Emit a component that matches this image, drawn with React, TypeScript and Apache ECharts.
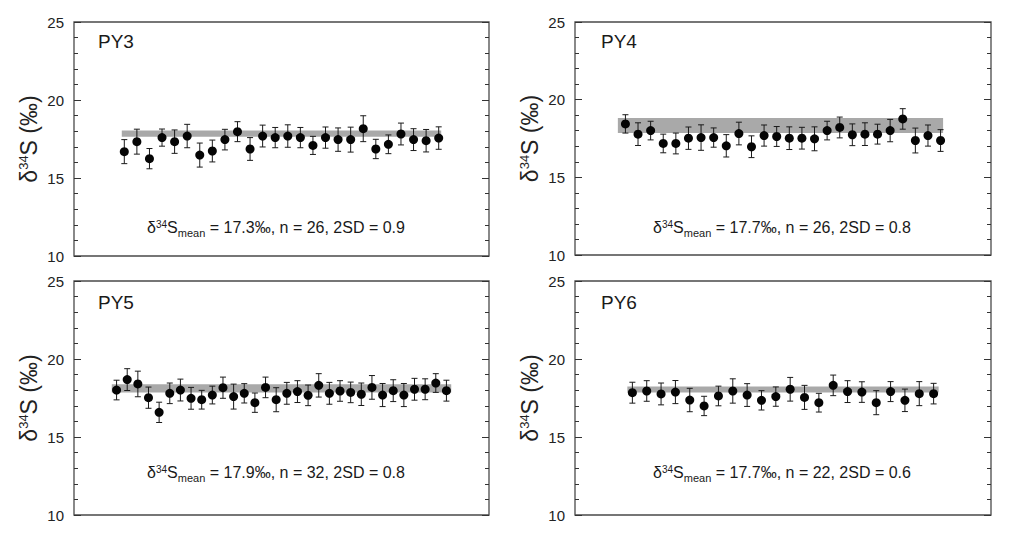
import React, { useEffect, useRef } from "react";
import * as echarts from "echarts";

// ---------- data ----------
const PANEL_NAMES = ["PY3", "PY4", "PY5", "PY6"];

const PY3_VALUES = [16.69, 17.33, 16.24, 17.59, 17.33, 17.69, 16.47, 16.73, 17.46, 17.97, 16.86, 17.69, 17.59, 17.69, 17.59, 17.09, 17.59, 17.46, 17.46, 18.16, 16.86, 17.16, 17.82, 17.46, 17.39, 17.56];
const PY3_ERRORS = [0.77, 0.8, 0.65, 0.55, 0.75, 0.75, 0.77, 0.7, 0.66, 0.64, 0.73, 0.7, 0.65, 0.72, 0.65, 0.58, 0.68, 0.75, 0.8, 0.83, 0.62, 0.6, 0.7, 0.7, 0.72, 0.72];

const PY4_VALUES = [18.44, 17.78, 18.01, 17.18, 17.18, 17.52, 17.56, 17.56, 17.03, 17.82, 16.97, 17.69, 17.63, 17.52, 17.52, 17.48, 18.01, 18.21, 17.74, 17.78, 17.78, 18.01, 18.76, 17.37, 17.69, 17.37];
const PY4_ERRORS = [0.59, 0.73, 0.6, 0.6, 0.67, 0.72, 0.82, 0.62, 0.72, 0.73, 0.7, 0.68, 0.64, 0.73, 0.7, 0.77, 0.6, 0.67, 0.7, 0.73, 0.64, 0.72, 0.66, 0.8, 0.68, 0.7];

const PY5_VALUES = [18.01, 18.68, 18.4, 17.52, 16.58, 17.8, 18.01, 17.48, 17.39, 17.69, 18.16, 17.59, 17.8, 17.2, 18.18, 17.39, 17.8, 17.91, 17.67, 18.31, 17.8, 17.95, 17.86, 17.74, 18.18, 17.69, 17.97, 17.69, 18.06, 18.06, 18.46, 17.97];
const PY5_ERRORS = [0.63, 0.7, 0.82, 0.68, 0.65, 0.66, 0.7, 0.7, 0.6, 0.57, 0.68, 0.8, 0.62, 0.62, 0.66, 0.77, 0.7, 0.7, 0.66, 0.75, 0.7, 0.66, 0.66, 0.72, 0.76, 0.74, 0.7, 0.74, 0.7, 0.67, 0.6, 0.67];

const PY6_VALUES = [17.84, 17.95, 17.76, 17.88, 17.37, 16.99, 17.63, 17.95, 17.69, 17.35, 17.59, 18.06, 17.54, 17.2, 18.31, 17.91, 17.88, 17.2, 17.91, 17.35, 17.78, 17.78];
const PY6_ERRORS = [0.67, 0.66, 0.7, 0.74, 0.75, 0.62, 0.63, 0.78, 0.73, 0.62, 0.62, 0.76, 0.77, 0.6, 0.66, 0.7, 0.66, 0.77, 0.64, 0.72, 0.77, 0.66];

// grey reference band per panel: [xStart, xEnd, yLow, yHigh]
const PY3_BAND = [0.8, 26.2, 17.65, 18.05];
const PY4_BAND = [0.4, 26.2, 17.86, 18.82];
const PY5_BAND = [0.55, 32.45, 17.86, 18.38];
const PY6_BAND = [0.65, 22.35, 17.86, 18.23];

const MEANS = [17.3, 17.7, 17.9, 17.7];
const COUNTS = [26, 26, 32, 22];
const TWO_SD = [0.9, 0.8, 0.8, 0.6];

const Y_TICKS = [10, 15, 20, 25];

// ---------- layout ----------
const FONT = '"Liberation Sans", Arial, Helvetica, sans-serif';
const GRIDS = [
  { left: 74, top: 22, width: 415, height: 234 },
  { left: 575, top: 22, width: 416, height: 233 },
  { left: 74, top: 281, width: 415, height: 234 },
  { left: 575, top: 281, width: 416, height: 234 },
];
const NAME_POS = [
  [98, 41],
  [601, 41],
  [98, 302],
  [601, 302],
];
const NOTE_POS = [
  [276, 227],
  [782, 227],
  [276, 472],
  [782, 472],
];

const ALL_VALUES = [PY3_VALUES, PY4_VALUES, PY5_VALUES, PY6_VALUES];
const ALL_ERRORS = [PY3_ERRORS, PY4_ERRORS, PY5_ERRORS, PY6_ERRORS];
const ALL_BANDS = [PY3_BAND, PY4_BAND, PY5_BAND, PY6_BAND];

function buildOption() {
  const yMin = Y_TICKS[0];
  const yMax = Y_TICKS[Y_TICKS.length - 1];
  const yInterval = Y_TICKS[1] - Y_TICKS[0];

  const grid: any[] = [];
  const xAxis: any[] = [];
  const yAxis: any[] = [];
  const series: any[] = [];
  const graphic: any[] = [];

  for (let p = 0; p < 4; p++) {
    const vals = ALL_VALUES[p];
    const errs = ALL_ERRORS[p];
    const band = ALL_BANDS[p];
    const n = vals.length;

    grid.push({
      ...GRIDS[p],
      show: true,
      borderColor: "#4a4a4a",
      borderWidth: 1.3,
      backgroundColor: "transparent",
      containLabel: false,
    });

    xAxis.push({
      type: "value",
      gridIndex: p,
      min: -3,
      max: n + 4,
      show: false,
      axisLine: { onZero: false },
    });

    const yCommon = {
      type: "value",
      gridIndex: p,
      min: yMin,
      max: yMax,
      interval: yInterval,
      axisLine: { show: false, onZero: false },
      splitLine: { show: false },
      axisTick: { show: true, inside: true, length: 7, lineStyle: { color: "#333", width: 1 } },
      minorTick: { show: true, splitNumber: 5, length: 4, lineStyle: { color: "#333", width: 1 } },
      minorSplitLine: { show: false },
    };

    yAxis.push({
      ...yCommon,
      position: "left",
      axisLabel: { show: true, margin: 10, fontSize: 15, color: "#222", fontFamily: FONT },
      name: "{a|δ}{s|34}{a|S (‰)}",
      nameLocation: "middle",
      nameRotate: 90,
      nameGap: 33,
      nameTextStyle: {
        fontFamily: FONT,
        color: "#222",
        fontSize: 23,
        lineHeight: 24,
        rich: {
          a: { fontSize: 23, fontFamily: FONT, color: "#222", lineHeight: 24 },
          s: { fontSize: 13, fontFamily: FONT, color: "#222", lineHeight: 15, verticalAlign: "top" },
        },
      },
    });
    yAxis.push({
      ...yCommon,
      position: "right",
      axisLabel: { show: false },
    });

    const yLeftIndex = p * 2;

    // grey band
    series.push({
      type: "custom",
      xAxisIndex: p,
      yAxisIndex: yLeftIndex,
      z: 1,
      silent: true,
      encode: { x: [0, 1], y: [2, 3] },
      data: [band],
      renderItem: (_params: any, api: any) => {
        const tl = api.coord([api.value(0), api.value(3)]);
        const br = api.coord([api.value(1), api.value(2)]);
        return {
          type: "rect",
          shape: { x: tl[0], y: tl[1], width: br[0] - tl[0], height: br[1] - tl[1] },
          style: { fill: "#a9a9a9" },
        };
      },
    });

    // error bars
    series.push({
      type: "custom",
      xAxisIndex: p,
      yAxisIndex: yLeftIndex,
      z: 2,
      silent: true,
      encode: { x: 0, y: 1 },
      data: vals.map((v, i) => [i + 1, v, errs[i]]),
      renderItem: (_params: any, api: any) => {
        const x = api.value(0);
        const v = api.value(1);
        const e = api.value(2);
        const top = api.coord([x, v + e]);
        const bot = api.coord([x, v - e]);
        const w = 3;
        const st = { stroke: "#1a1a1a", lineWidth: 1 };
        return {
          type: "group",
          children: [
            { type: "line", shape: { x1: top[0], y1: top[1], x2: bot[0], y2: bot[1] }, style: st },
            { type: "line", shape: { x1: top[0] - w, y1: top[1], x2: top[0] + w, y2: top[1] }, style: st },
            { type: "line", shape: { x1: bot[0] - w, y1: bot[1], x2: bot[0] + w, y2: bot[1] }, style: st },
          ],
        };
      },
    });

    // points
    series.push({
      type: "scatter",
      xAxisIndex: p,
      yAxisIndex: yLeftIndex,
      z: 3,
      symbol: "circle",
      symbolSize: 9,
      itemStyle: { color: "#050505", opacity: 1 },
      data: vals.map((v, i) => [i + 1, v]),
    });

    graphic.push({
      type: "text",
      x: NAME_POS[p][0],
      y: NAME_POS[p][1],
      style: {
        text: PANEL_NAMES[p],
        fontFamily: FONT,
        fontSize: 19,
        fill: "#1a1a1a",
        align: "left",
        verticalAlign: "middle",
      },
    });

    graphic.push({
      type: "text",
      x: NOTE_POS[p][0],
      y: NOTE_POS[p][1],
      style: {
        text: `{m|δ}{sup|34}{m|S}{sub|mean}{m| = ${MEANS[p].toFixed(1)}‰, n = ${COUNTS[p]}, 2SD = ${TWO_SD[p].toFixed(1)}}`,
        fontFamily: FONT,
        fontSize: 16,
        fill: "#1a1a1a",
        align: "center",
        verticalAlign: "middle",
        rich: {
          m: { fontSize: 16, fontFamily: FONT, fill: "#1a1a1a", lineHeight: 16 },
          sup: { fontSize: 10, fontFamily: FONT, fill: "#1a1a1a", lineHeight: 12, verticalAlign: "top" },
          sub: { fontSize: 11, fontFamily: FONT, fill: "#1a1a1a", lineHeight: 4, height: 4, verticalAlign: "bottom" },
        },
      },
    });
  }

  return {
    animation: false,
    backgroundColor: "#ffffff",
    textStyle: { fontFamily: FONT },
    grid,
    xAxis,
    yAxis,
    series,
    graphic,
  };
}

export default function App() {
  const ref = useRef<HTMLDivElement>(null);

  useEffect(() => {
    document.body.style.margin = "0";
    if (!ref.current) return;
    const chart = echarts.init(ref.current, undefined, { renderer: "svg" });
    chart.setOption(buildOption() as any);
    return () => {
      chart.dispose();
    };
  }, []);

  return <div ref={ref} style={{ width: 1009, height: 539 }} />;
}
